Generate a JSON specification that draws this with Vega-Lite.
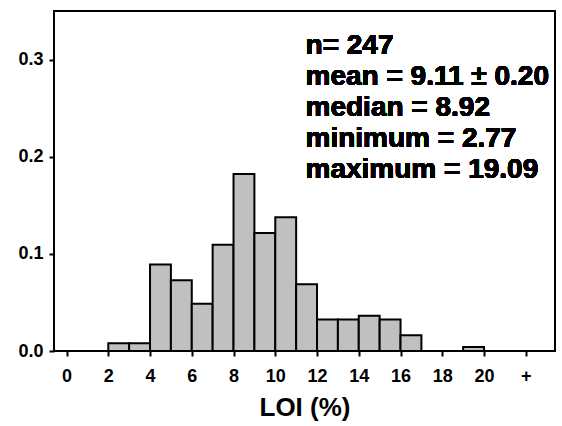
{
  "$schema": "https://vega.github.io/schema/vega-lite/v6.json",
  "width": 501,
  "height": 340,
  "autosize": "none",
  "padding": {"left": 54, "top": 11, "right": 7, "bottom": 75},
  "background": "white",
  "config": {
    "view": {"stroke": "black", "strokeWidth": 2},
    "font": "Liberation Sans"
  },
  "data": {
    "values": [
      {"lo": 2, "hi": 3, "freq": 0.0081},
      {"lo": 3, "hi": 4, "freq": 0.0081},
      {"lo": 4, "hi": 5, "freq": 0.0891},
      {"lo": 5, "hi": 6, "freq": 0.0729},
      {"lo": 6, "hi": 7, "freq": 0.0486},
      {"lo": 7, "hi": 8, "freq": 0.1093},
      {"lo": 8, "hi": 9, "freq": 0.1822},
      {"lo": 9, "hi": 10, "freq": 0.1215},
      {"lo": 10, "hi": 11, "freq": 0.1377},
      {"lo": 11, "hi": 12, "freq": 0.0688},
      {"lo": 12, "hi": 13, "freq": 0.0324},
      {"lo": 13, "hi": 14, "freq": 0.0324},
      {"lo": 14, "hi": 15, "freq": 0.0364},
      {"lo": 15, "hi": 16, "freq": 0.0324},
      {"lo": 16, "hi": 17, "freq": 0.0162},
      {"lo": 19, "hi": 20, "freq": 0.0040}
    ]
  },
  "layer": [
    {
      "mark": {"type": "rect", "fill": "#c0c0c0", "stroke": "black", "strokeWidth": 2},
      "encoding": {
        "x": {
          "field": "lo", "type": "quantitative",
          "scale": {"domain": [-0.6, 23.4], "nice": false, "zero": false},
          "axis": {
            "title": "LOI (%)",
            "values": [0, 2, 4, 6, 8, 10, 12, 14, 16, 18, 20, 22],
            "labelExpr": "datum.value == 22 ? '+' : datum.value",
            "grid": false,
            "domain": false,
            "tickColor": "black", "tickWidth": 2, "tickSize": 5,
            "labelFont": "Liberation Sans", "labelFontWeight": "bold", "labelFontSize": 18, "labelColor": "black",
            "labelPadding": 11,
            "titleFont": "Liberation Sans", "titleFontWeight": "bold", "titleFontSize": 26, "titleColor": "black",
            "titlePadding": 9
          }
        },
        "x2": {"field": "hi"},
        "y": {
          "field": "freq", "type": "quantitative",
          "scale": {"domain": [0, 0.35], "nice": false},
          "axis": {
            "title": null,
            "values": [0, 0.1, 0.2, 0.3],
            "format": ".1f",
            "grid": false,
            "domain": false,
            "tickColor": "black", "tickWidth": 2, "tickSize": 5,
            "labelFont": "Liberation Sans", "labelFontWeight": "bold", "labelFontSize": 18, "labelColor": "black",
            "labelPadding": 6
          }
        },
        "y2": {"datum": 0}
      }
    },
    {
      "mark": {
        "type": "text", "align": "left", "baseline": "alphabetic",
        "font": "Liberation Sans", "fontWeight": "bold", "fontSize": 28,
        "lineHeight": 31, "lineBreak": "\n", "color": "black"
      },
      "encoding": {
        "x": {"datum": 11.45},
        "y": {"datum": 0.3054},
        "text": {"value": "n= 247\nmean = 9.11 ± 0.20\nmedian = 8.92\nminimum = 2.77\nmaximum = 19.09"}
      }
    }
  ]
}
